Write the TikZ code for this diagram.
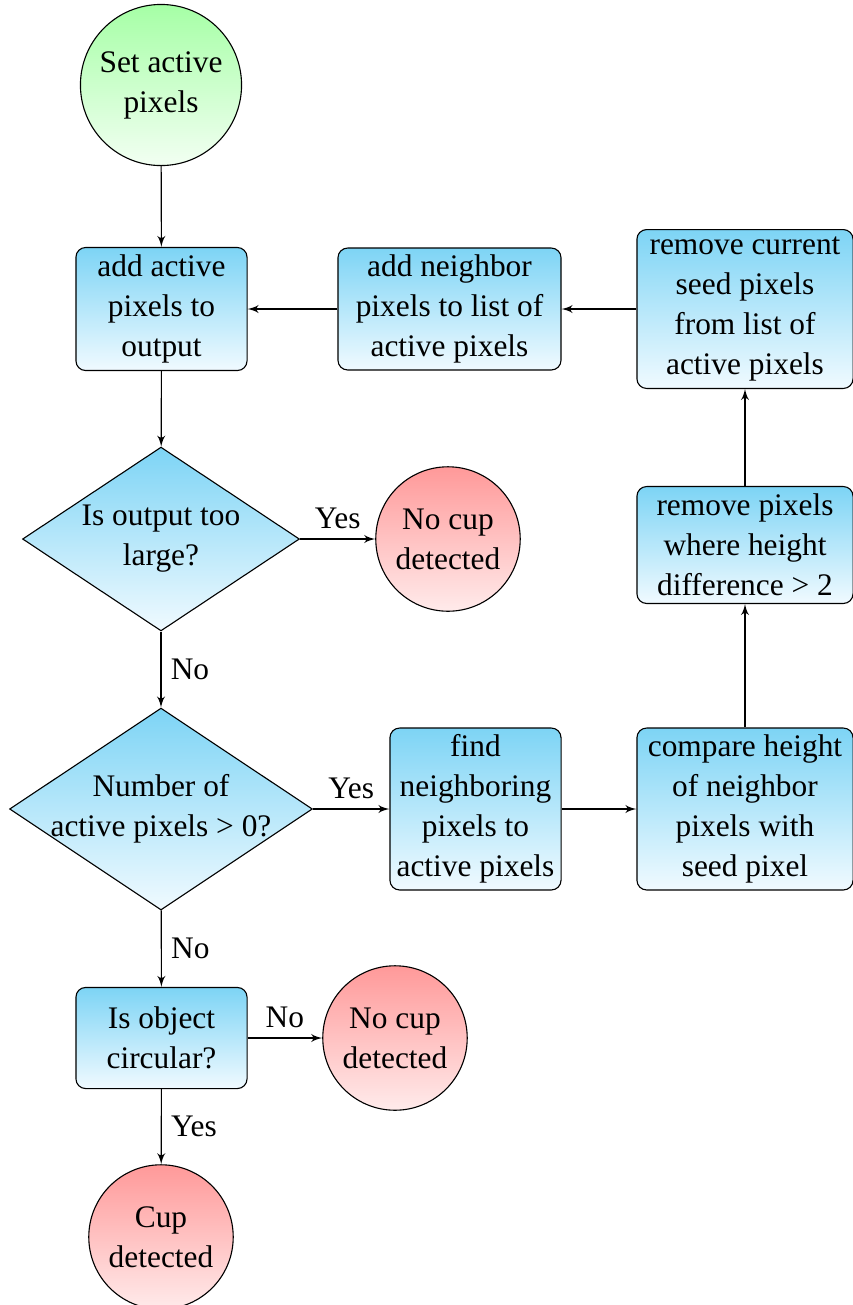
\documentclass[tikz,border=0pt]{standalone}
\usepackage{fontspec}
\setmainfont{Liberation Serif}
\usetikzlibrary{arrows,shapes.geometric}
\definecolor{boxtop}{RGB}{125,212,245}
\definecolor{boxbot}{RGB}{240,250,255}

\begin{document}
\begin{tikzpicture}[>=latex', x=0.36pt, y=-0.36pt, font=\fontsize{11.3}{14.4}\selectfont]
  \tikzstyle{base}=[draw=black, align=center, inner sep=2pt]
  \tikzstyle{process}=[base, rectangle, rounded corners=3.5pt, top color=boxtop, bottom color=boxbot]
  \tikzstyle{decision}=[base, diamond, aspect=1.5, inner sep=0pt, top color=boxtop, bottom color=boxbot]
  \tikzstyle{startnode}=[base, circle, minimum size=58pt, top color=green!35, bottom color=green!5]
  \tikzstyle{stopnode}=[base, circle, minimum size=52pt, top color=red!40, bottom color=red!8]
  \tikzstyle{line}=[draw, ->]

\useasboundingbox (0,0) rectangle (853,1305);

% left column
\node [startnode] (start) at (161,85) {Set active\\pixels};
\node [process, minimum width=61.6pt, minimum height=44.3pt] (addact) at (161.5,309) {add active\\pixels to\\output};
\node [decision, minimum width=99.7pt, minimum height=66.2pt] (large) at (161,539) {Is output too\\large?};
\node [stopnode] (nocup1) at (448,539) {No cup\\detected};
\node [decision, inner xsep=-4pt, minimum width=109pt, minimum height=72.7pt] (number) at (161,809) {Number of\\active pixels > 0?};
\node [process, minimum width=61.6pt, minimum height=36.4pt] (circular) at (161.5,1038) {Is object\\circular?};
\node [stopnode] (nocup2) at (395,1038) {No cup\\detected};
\node [stopnode] (cup) at (161,1237) {Cup\\detected};

% loop
\node [process, minimum width=61.6pt, minimum height=58.3pt] (find) at (475.5,809) {find\\neighboring\\pixels to\\active pixels};
\node [process, minimum width=77.8pt, minimum height=58.3pt] (compare) at (745,809) {compare height\\of neighbor\\pixels with\\seed pixel};
\node [process, minimum width=77.8pt, minimum height=42.1pt] (rempix) at (745,545) {remove pixels\\where height\\difference > 2};
\node [process, minimum width=77.8pt, minimum height=57.2pt] (remcur) at (745,309) {remove current\\seed pixels\\from list of\\active pixels};
\node [process, minimum width=80.3pt, minimum height=43.9pt] (addnb) at (449.5,309) {add neighbor\\pixels to list of\\active pixels};

\draw [line] (start) -- (addact);
\draw [line] (addact) -- (large);
\draw [line] (large) -- node [above] {Yes} (nocup1);
\draw [line] (large) -- node [right] {No} (number);
\draw [line] (number) -- node [above] {Yes} (find);
\draw [line] (find) -- (compare);
\draw [line] (compare) -- (rempix);
\draw [line] (rempix) -- (remcur);
\draw [line] (remcur) -- (addnb);
\draw [line] (addnb) -- (addact);
\draw [line] (number) -- node [right] {No} (circular);
\draw [line] (circular) -- node [above] {No} (nocup2);
\draw [line] (circular) -- node [right] {Yes} (cup);
\end{tikzpicture}
\end{document}
